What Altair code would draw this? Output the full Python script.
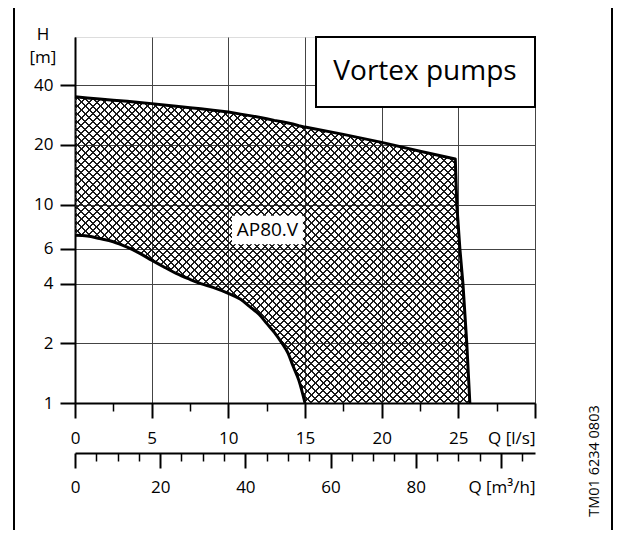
import math
import altair as alt
import pandas as pd

# ---------------- data ----------------
Q = [0, 0.8, 1.6, 2.5, 3.4, 4.2, 5, 5.8, 6.6, 7.5, 8.2, 9, 10, 10.8, 11.4, 12,
     12.5, 13, 13.5, 13.9, 14.2, 14.6, 15, 17.5, 20, 22.5, 24.8, 24.9, 25.1,
     25.3, 25.55, 25.75]
H_MAX = [35.0, 34.5, 34.1, 33.6, 33.2, 32.7, 32.3, 31.8, 31.3, 30.8, 30.4, 29.9,
         29.3, 28.6, 28.1, 27.6, 27.1, 26.6, 26.2, 25.8, 25.5, 25.0, 24.6, 22.6,
         20.6, 18.6, 17.0, 10.0, 6.0, 4.0, 2.0, 1.0]
H_MIN = [7.0, 6.95, 6.75, 6.5, 6.1, 5.7, 5.25, 4.85, 4.5, 4.2, 4.0, 3.83, 3.57,
         3.33, 3.06, 2.8, 2.52, 2.27, 2.0, 1.78, 1.55, 1.3, 1.0, 1.0, 1.0, 1.0,
         1.0, 1.0, 1.0, 1.0, 1.0, 1.0]

LS_MAJOR = [0, 5, 10, 15, 20, 25, 30]
LS_MINOR = [2.5, 7.5, 12.5, 17.5, 22.5, 27.5]
M3H_MAJOR = [0, 20, 40, 60, 80, 100]
M3H_LABELLED = [0, 20, 40, 60, 80]
M3H_MINOR = [5, 10, 15, 25, 30, 35, 45, 50, 55, 65, 70, 75, 85, 90, 95, 105]
H_TICKS = [1, 2, 4, 6, 10, 20, 40]

LABEL = ["AP80.V"]
LABEL_Q = [12.55]
LABEL_H = [7.45]

TITLE = ["Vortex pumps"]
CODE = ["TM01 6234 0803"]
Y_TITLE = ["H", "[m]"]

# ---------------- layout constants ----------------
PW, PH = 460, 366
QMAX_AXIS, HMAX_AXIS = 30, 70
FONT = "Open Sans"

df = pd.DataFrame({"Q": Q, "Hmax": H_MAX, "Hmin": H_MIN})
lab = pd.DataFrame({"Q": LABEL_Q, "H": LABEL_H, "t": LABEL})

xs = alt.Scale(domain=[0, QMAX_AXIS], nice=False, zero=False)
ys = alt.Scale(type="log", domain=[1, HMAX_AXIS], nice=False)

# ---------------- cross hatch via striped gradients ----------------
W = max(Q) / QMAX_AXIS * PW
HB = math.log10(max(H_MAX)) / math.log10(HMAX_AXIS) * PH
T = W + HB
s = T / (W * W + HB * HB)
PERIOD, THICK = 7.8, 2.0
CLR, INK = "rgba(0,0,0,0)", "#1a1a1a"


def stripes(phase):
    stops = [alt.GradientStop(offset=0, color=CLR)]
    k = 0
    while True:
        a = (phase + k * PERIOD) / T
        if a >= 1:
            break
        b = min((phase + k * PERIOD + THICK) / T, 1)
        stops += [alt.GradientStop(offset=a, color=CLR),
                  alt.GradientStop(offset=a, color=INK),
                  alt.GradientStop(offset=b, color=INK),
                  alt.GradientStop(offset=b, color=CLR)]
        k += 1
    return stops


grad_a = alt.LinearGradient(gradient="linear", stops=stripes(3.0),
                            x1=0, y1=0, x2=W * s, y2=HB * s)
grad_b = alt.LinearGradient(gradient="linear", stops=stripes(3.0),
                            x1=1, y1=0, x2=1 - W * s, y2=HB * s)

last_right = {"condition": {"test": "datum.value >= 29.99", "value": "right"},
              "value": "center"}

y_axis = alt.Axis(values=H_TICKS, format="d", grid=True, gridColor="#444",
                  gridWidth=1, tickSize=15, tickWidth=2, tickColor="black",
                  domainColor="black", domainWidth=2, labelFontSize=17,
                  labelFont=FONT, labelColor="black", labelPadding=7,
                  labelOverlap=False, title=None)

ls_major = alt.Axis(orient="bottom", values=LS_MAJOR, grid=True, gridColor="#444",
                    gridWidth=1, tickSize=15, tickWidth=2, tickColor="black",
                    domainColor="black", domainWidth=2, labelFontSize=17,
                    labelFont=FONT, labelColor="black", labelPadding=20,
                    labelBaseline="middle", labelFlush=False, labelOverlap=False,
                    labelExpr="datum.value >= 29.99 ? 'Q [l/s]' : datum.label",
                    labelAlign=last_right, title=None)
ls_minor = alt.Axis(orient="bottom", values=LS_MINOR, grid=False, domain=False,
                    labels=False, tickSize=8, tickWidth=1.5, tickColor="black",
                    title=None)
m3_label_expr = ("datum.value >= 29.99 ? 'Q [m³/h]' : ("
                 + " || ".join(f"abs(datum.value * 3.6 - {m}) < 0.01"
                               for m in M3H_LABELLED)
                 + ") ? format(datum.value * 3.6, '.0f') : ''")
m3_major = alt.Axis(orient="bottom", offset=50,
                    values=[m / 3.6 for m in M3H_MAJOR] + [QMAX_AXIS],
                    grid=False, tickSize=15, tickWidth=2,
                    tickColor={"condition": {"test": "datum.value >= 29.99",
                                             "value": "rgba(0,0,0,0)"},
                               "value": "black"},
                    domainColor="black", domainWidth=2, labelFontSize=17,
                    labelFont=FONT, labelColor="black", labelPadding=19,
                    labelBaseline="middle", labelFlush=False, labelOverlap=False,
                    labelExpr=m3_label_expr,
                    labelAlign=last_right, title=None)
m3_minor = alt.Axis(orient="bottom", offset=50,
                    values=[m / 3.6 for m in M3H_MINOR], grid=False,
                    domain=False, labels=False, tickSize=8, tickWidth=1.5,
                    tickColor="black", title=None)

base = alt.Chart(df)

hatch_a = base.mark_area(fill=grad_a, opacity=1, interpolate="linear").encode(
    x=alt.X("Q:Q", scale=xs, axis=ls_major),
    y=alt.Y("Hmax:Q", scale=ys, axis=y_axis),
    y2="Hmin:Q")
hatch_b = base.mark_area(fill=grad_b, opacity=1, interpolate="linear").encode(
    x=alt.X("Q:Q", scale=xs, axis=ls_minor),
    y=alt.Y("Hmax:Q", scale=ys, axis=None),
    y2="Hmin:Q")

label_box = alt.Chart(lab).mark_point(
    shape="M-1,-0.4L1,-0.4L1,0.4L-1,0.4Z", size=71 * 71, filled=True,
    color="white", opacity=1, strokeWidth=0).encode(
    x=alt.X("Q:Q", scale=xs, axis=None), y=alt.Y("H:Q", scale=ys, axis=None))
label_txt = alt.Chart(lab).mark_text(font=FONT, fontSize=19, color="black",
                                     align="center", baseline="middle").encode(
    x=alt.X("Q:Q", scale=xs, axis=None), y=alt.Y("H:Q", scale=ys, axis=None),
    text="t:N")

upper = base.mark_line(color="black", strokeWidth=3, interpolate="linear",
                       strokeJoin="round").encode(
    x=alt.X("Q:Q", scale=xs, axis=m3_major),
    y=alt.Y("Hmax:Q", scale=ys, axis=None))
lower = base.transform_filter("datum.Q <= 15").mark_line(
    color="black", strokeWidth=3, interpolate="monotone").encode(
    x=alt.X("Q:Q", scale=xs, axis=m3_minor),
    y=alt.Y("Hmin:Q", scale=ys, axis=None))

one = pd.DataFrame({"t": TITLE})
title_box = alt.Chart(one).mark_rect(fill="white", stroke="black",
                                     strokeWidth=2).encode(
    x=alt.value(241), x2=alt.value(PW), y=alt.value(0), y2=alt.value(70))
title_txt = alt.Chart(one).mark_text(font=FONT, fontSize=28, color="black",
                                     align="center", baseline="middle").encode(
    x=alt.value(350), y=alt.value(35), text="t:N")

ytitle_h = alt.Chart(pd.DataFrame({"t": Y_TITLE[:1]})).mark_text(
    font=FONT, fontSize=17, color="black", align="center",
    baseline="middle").encode(x=alt.value(-32), y=alt.value(-2), text="t:N")
ytitle_m = alt.Chart(pd.DataFrame({"t": Y_TITLE[1:]})).mark_text(
    font=FONT, fontSize=17, color="black", align="center",
    baseline="middle").encode(x=alt.value(-32), y=alt.value(21), text="t:N")

code_txt = alt.Chart(pd.DataFrame({"t": CODE})).mark_text(
    font=FONT, fontSize=14.5, color="black", angle=270, align="center",
    baseline="middle").encode(x=alt.value(520), y=alt.value(424), text="t:N")

frame = alt.Chart(one).mark_rect(fillOpacity=0, stroke="black",
                                 strokeWidth=2).encode(
    x=alt.value(-61), x2=alt.value(537), y=alt.value(-30), y2=alt.value(520))

chart = alt.layer(hatch_a, hatch_b, label_box, label_txt, upper, lower,
                  title_box, title_txt, ytitle_h, ytitle_m, code_txt,
                  frame).resolve_axis(
    x="independent", y="independent").properties(
    width=PW, height=PH, autosize=alt.AutoSizeParams(type="none"),
    padding={"left": 67, "top": 29, "right": 78, "bottom": 127}).configure_view(
    stroke="black", strokeWidth=2).configure(font=FONT)

chart.save("out.html", embed_options={"renderer": "svg", "actions": False})
